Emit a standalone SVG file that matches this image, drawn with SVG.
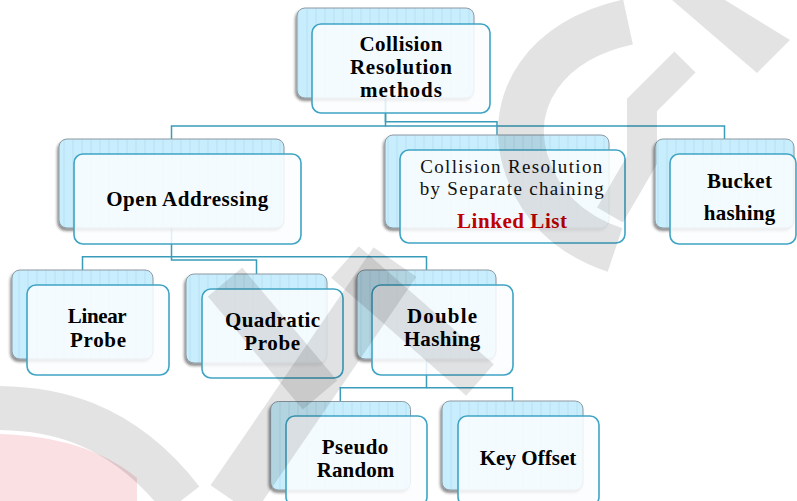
<svg xmlns="http://www.w3.org/2000/svg" width="797" height="501" viewBox="0 0 797 501">
<defs>
<pattern id="stripes" patternUnits="userSpaceOnUse" width="9" height="10">
<rect width="9" height="10" fill="#c8edfc"/>
<rect x="0" width="2" height="10" fill="#b9e2f4" opacity="0.6"/>
</pattern>
<filter id="sh" x="-10%" y="-10%" width="120%" height="130%">
<feDropShadow dx="-1.5" dy="2.5" stdDeviation="1.2" flood-color="#222" flood-opacity="0.5"/>
</filter>
<style>
.back{fill:url(#stripes);stroke:#8d9aa3;stroke-width:1;filter:url(#sh);}
.front{fill:#fbfdff;fill-opacity:0.86;stroke:#3fa4c4;stroke-width:1.6;}
.t{font-family:"Liberation Serif","DejaVu Serif",serif;font-weight:bold;font-size:21px;text-anchor:middle;fill:#000;}
.r{font-family:"Liberation Serif","DejaVu Serif",serif;font-size:19px;text-anchor:middle;fill:#111;}
.red{fill:#c00000;}
.conn{fill:none;stroke:#3a9cbb;stroke-width:1.5;}
.wm{fill:none;stroke:#000;stroke-opacity:0.11;}
</style>
</defs>
<rect width="797" height="501" fill="#fff"/>

<g id="connectors">
<path class="conn" d="M385.5 98 V121.7 H497 V135"/>
<path class="conn" d="M385.5 98 V126 H171.5 V139"/>
<path class="conn" d="M385.5 126 H724.5 V139"/>
<path class="conn" d="M171.5 228 V256.7 H82.5 V270"/>
<path class="conn" d="M171.5 256.7 H426.5 V270"/>
<path class="conn" d="M171.5 256.7 V260 H256.5 V274"/>
<path class="conn" d="M426.5 359 V387.7 H340.3 V401.5"/>
<path class="conn" d="M426.5 387.7 H512.5 V401"/>
</g>

<g id="root">
<rect class="back" x="297" y="8" width="177" height="90" rx="8"/>
<rect class="front" x="312" y="24" width="178" height="89" rx="9"/>
<text class="t" x="401" y="50.7" textLength="83" lengthAdjust="spacing">Collision</text>
<text class="t" x="401" y="73.5" textLength="102" lengthAdjust="spacing">Resolution</text>
<text class="t" x="401" y="96.5" textLength="82" lengthAdjust="spacing">methods</text>
</g>

<g id="open-addressing">
<rect class="back" x="59" y="139" width="225" height="89" rx="8"/>
<rect class="front" x="74" y="154" width="227" height="90" rx="9"/>
<text class="t" x="187.2" y="206" textLength="162" lengthAdjust="spacing">Open Addressing</text>
</g>

<g id="separate-chaining">
<rect class="back" x="385" y="135" width="224" height="93" rx="8"/>
<rect class="front" x="400" y="150" width="225" height="93" rx="9"/>
<text class="r" x="511.2" y="173.3" textLength="182" lengthAdjust="spacing">Collision Resolution</text>
<text class="r" x="511.7" y="195" textLength="184" lengthAdjust="spacing">by Separate chaining</text>
<text class="t red" x="512" y="227.5" textLength="110" lengthAdjust="spacing">Linked List</text>
</g>

<g id="bucket-hashing">
<rect class="back" x="655" y="139" width="139" height="89" rx="8"/>
<rect class="front" x="670" y="154" width="126" height="90" rx="9"/>
<text class="t" x="739.5" y="188.3" textLength="65" lengthAdjust="spacing">Bucket</text>
<text class="t" x="739.5" y="220" textLength="71.6" lengthAdjust="spacing">hashing</text>
</g>

<g id="linear-probe">
<rect class="back" x="12" y="270" width="141" height="89" rx="8"/>
<rect class="front" x="27" y="285" width="142" height="90" rx="9"/>
<text class="t" x="97.2" y="323.3" textLength="59" lengthAdjust="spacing">Linear</text>
<text class="t" x="98" y="346.7" textLength="56" lengthAdjust="spacing">Probe</text>
</g>

<g id="quadratic-probe">
<rect class="back" x="186" y="274" width="141" height="89" rx="8"/>
<rect class="front" x="202" y="289" width="141" height="89" rx="9"/>
<text class="t" x="272.5" y="327.3" textLength="95" lengthAdjust="spacing">Quadratic</text>
<text class="t" x="272.2" y="350" textLength="55.7" lengthAdjust="spacing">Probe</text>
</g>

<g id="double-hashing">
<rect class="back" x="357" y="270" width="139" height="89" rx="8"/>
<rect class="front" x="372" y="285" width="141" height="90" rx="9"/>
<text class="t" x="442" y="323.3" textLength="70" lengthAdjust="spacing">Double</text>
<text class="t" x="442" y="346" textLength="76.7" lengthAdjust="spacing">Hashing</text>
</g>

<g id="pseudo-random">
<rect class="back" x="270.5" y="401.5" width="140" height="88.5" rx="8"/>
<rect class="front" x="286" y="416" width="141" height="90" rx="9"/>
<text class="t" x="355" y="454" textLength="66.7" lengthAdjust="spacing">Pseudo</text>
<text class="t" x="355.5" y="477.3" textLength="77.6" lengthAdjust="spacing">Random</text>
</g>

<g id="key-offset">
<rect class="back" x="442" y="401" width="141" height="89" rx="8"/>
<rect class="front" x="458" y="416" width="141" height="90" rx="9"/>
<text class="t" x="528" y="465" textLength="96.7" lengthAdjust="spacing">Key Offset</text>
</g>

<g id="watermark">
<path d="M0 434 C55 436 100 448 137 478 L137 501 L0 501 Z" fill="#f3b8c0" fill-opacity="0.45"/>
<polygon points="672,0 725,0 790,40 757,73" fill="#000" fill-opacity="0.11"/>
<path class="wm" stroke-width="46" d="M628 22 C545 40 508 100 525 160 C538 205 570 235 615 250"/>
<path class="wm" stroke-width="30" d="M685 62 L642 105 L642 160 L610 215"/>
<path class="wm" stroke-width="44" d="M-5 408 C50 408 120 420 182 500"/>
<path class="wm" stroke-width="52" d="M395 262 L232 500"/>
<path class="wm" stroke-width="45" d="M225 282 L320 395"/>
<path class="wm" stroke-width="42" d="M345 262 L480 380"/>
</g>
</svg>
